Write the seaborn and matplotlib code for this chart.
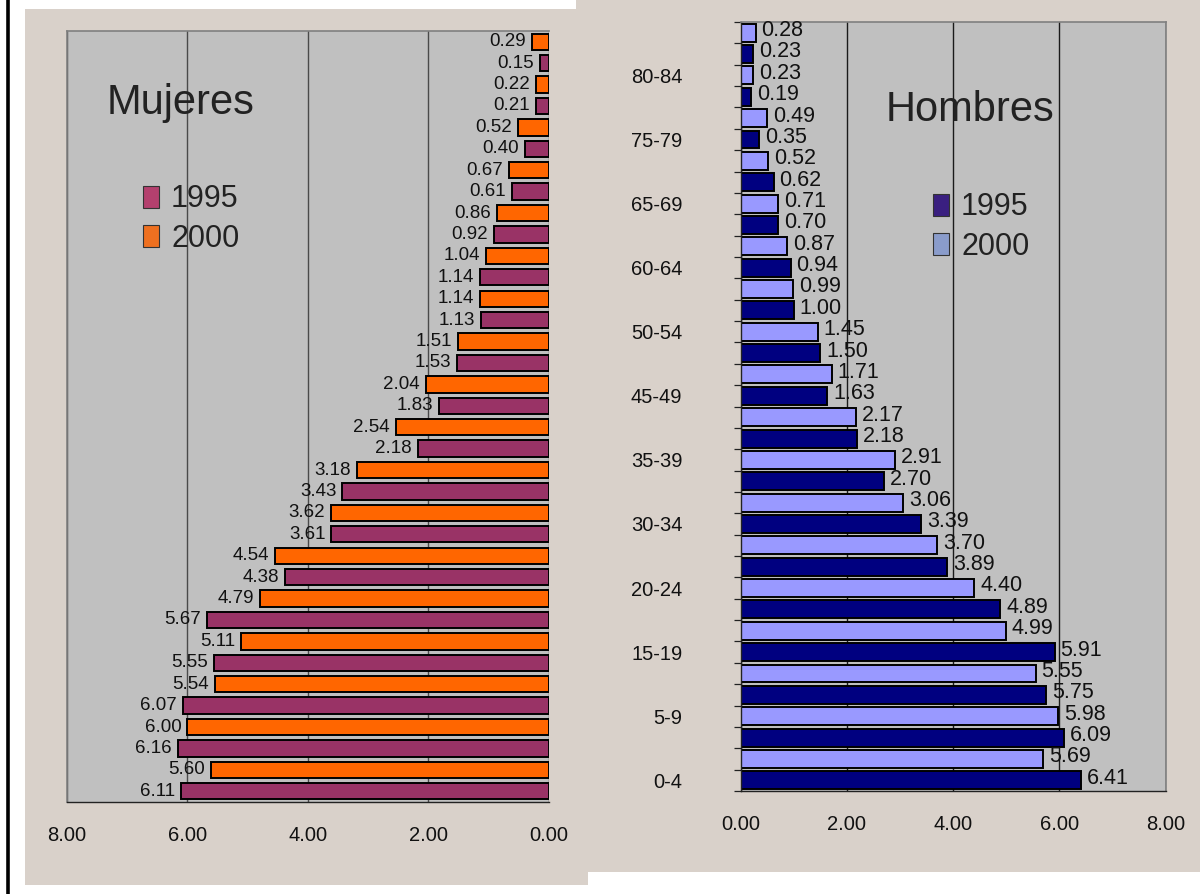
import numpy as np
import pandas as pd
import matplotlib
matplotlib.use("Agg")
import matplotlib.pyplot as plt
from matplotlib.patches import Rectangle, Patch
from matplotlib.lines import Line2D
from matplotlib.ticker import FixedLocator, StrMethodFormatter
import seaborn as sns

# Population share (%) by five-year age group, 1995 and 2000
age_groups = ["0-4", "5-9", "10-14", "15-19", "20-24", "25-29", "30-34", "35-39",
              "40-44", "45-49", "50-54", "55-59", "60-64", "65-69", "70-74",
              "75-79", "80-84", "85+"]
years = ["1995", "2000"]

women_1995 = [6.11, 6.16, 6.07, 5.55, 5.67, 4.38, 3.61, 3.43, 2.18, 1.83, 1.53,
              1.13, 1.14, 0.92, 0.61, 0.40, 0.21, 0.15]
women_2000 = [5.60, 6.00, 5.54, 5.11, 4.79, 4.54, 3.62, 3.18, 2.54, 2.04, 1.51,
              1.14, 1.04, 0.86, 0.67, 0.52, 0.22, 0.29]
men_1995 = [6.41, 6.09, 5.75, 5.91, 4.89, 3.89, 3.39, 2.70, 2.18, 1.63, 1.50,
            1.00, 0.94, 0.70, 0.62, 0.35, 0.19, 0.23]
men_2000 = [5.69, 5.98, 5.55, 4.99, 4.40, 3.70, 3.06, 2.91, 2.17, 1.71, 1.45,
            0.99, 0.87, 0.71, 0.52, 0.49, 0.23, 0.28]

x_ticks = [0, 2, 4, 6, 8]

women_colors = {"1995": "#993366", "2000": "#FF6600"}
men_colors = {"1995": "#000080", "2000": "#9999FF"}
women_key_colors = {"1995": "#B4406E", "2000": "#EE7020"}
men_key_colors = {"1995": "#3A1F80", "2000": "#8A9CCB"}

PANEL = "#D9D1CA"
PLOT_BG = "#C0C0C0"
W, H = 1200, 894

sns.set_style("white")
plt.rcParams["font.family"] = ["Liberation Sans", "DejaVu Sans"]
plt.rcParams["text.color"] = "#111111"


def long_table(v1995, v2000):
    rows = []
    for g, a, b in zip(age_groups, v1995, v2000):
        rows.append((f"{g} 1995", g, "1995", a))
        rows.append((f"{g} 2000", g, "2000", b))
    return pd.DataFrame(rows, columns=["fila", "grupo", "anio", "pct"])


def fx(px):
    return px / W


def fy(py):
    return 1 - py / H


fig = plt.figure(figsize=(W / 100, H / 100), dpi=100, facecolor="white")

# backdrop panels and left rule, kept underneath the axes
fig.patches.append(Rectangle((fx(25), fy(885)), fx(588 - 25), (885 - 9) / H,
                             transform=fig.transFigure, facecolor=PANEL,
                             edgecolor="none", zorder=-5))
fig.patches.append(Rectangle((fx(576), fy(872)), fx(W - 576), 872 / H,
                             transform=fig.transFigure, facecolor=PANEL,
                             edgecolor="none", zorder=-5))
fig.lines.append(Line2D([fx(7.5), fx(7.5)], [0, 1], transform=fig.transFigure,
                        color="black", lw=2.6, zorder=-4))

ax_w = fig.add_axes([fx(66.7), fy(802), fx(549 - 66.7), (802 - 31) / H])
ax_m = fig.add_axes([fx(740.7), fy(791), fx(1165.7 - 740.7), (791 - 22) / H])


def draw(ax, v1995, v2000, palette, bar_width, xlim, label_side, label_size,
         label_dy, grid_color):
    df = long_table(v1995, v2000)
    order = list(df["fila"])[::-1]  # oldest group at the top
    ax.set_facecolor(PLOT_BG)
    ax.set_axisbelow(True)
    sns.barplot(data=df, x="pct", y="fila", hue="anio", order=order,
                hue_order=years, palette=palette, saturation=1, dodge=False,
                width=bar_width, edgecolor="black", linewidth=1.4, errorbar=None,
                legend=False, orient="h", ax=ax)
    ax.set_xlim(*xlim)
    ax.set_ylim(len(order) - 0.5, -0.5)
    ax.set_xlabel("")
    ax.set_ylabel("")
    ax.xaxis.set_major_locator(FixedLocator(x_ticks))
    ax.xaxis.set_major_formatter(StrMethodFormatter("{x:.2f}"))
    ax.grid(axis="x", color=grid_color, lw=1.0)
    ax.grid(axis="y", visible=False)
    ax.tick_params(axis="x", direction="out", length=4.3, width=0.9,
                   color="#222222", pad=13, labelsize=14.5, labelcolor="#111111")
    n = len(order)
    for k, val in enumerate(df["pct"]):
        ypos = n - 1 - k
        ax.annotate(f"{val:.2f}", xy=(val, ypos),
                    xytext=(4.3 * label_side, label_dy), textcoords="offset points",
                    ha="left" if label_side > 0 else "right", va="center",
                    fontsize=label_size, color="#111111")
    return n


# Mujeres: bars grow to the left
n = draw(ax_w, women_1995, women_2000, women_colors, 0.76, (8, 0), -1, 13.5, 0,
         "#4a4a4a")
ax_w.set_yticks([])
for side in ["top", "left"]:
    ax_w.spines[side].set_color("#808080")
    ax_w.spines[side].set_linewidth(1.2)
ax_w.spines["right"].set_visible(False)
ax_w.spines["bottom"].set_color("#222222")
ax_w.spines["bottom"].set_linewidth(1.0)

# Hombres: bars grow to the right, every third row labelled with its age group
n = draw(ax_m, men_1995, men_2000, men_colors, 0.84, (0, 8), 1, 15.5, 1.5,
         "#1a1a1a")
label_rows = list(range(0, 2 * len(age_groups), 3))
ax_m.set_yticks([n - 1 - k for k in label_rows])
ax_m.set_yticklabels([age_groups[k // 2] for k in label_rows])
ax_m.yaxis.set_minor_locator(FixedLocator(np.arange(-0.5, n, 1.0)))
ax_m.tick_params(axis="y", which="major", length=0, pad=42, labelsize=14.5,
                 labelcolor="#111111")
ax_m.tick_params(axis="y", which="minor", direction="out", length=5, width=0.9,
                 color="#222222", left=True)
for side in ["top", "right"]:
    ax_m.spines[side].set_color("#808080")
    ax_m.spines[side].set_linewidth(1.2)
for side in ["left", "bottom"]:
    ax_m.spines[side].set_color("#222222")
    ax_m.spines[side].set_linewidth(1.0)

# panel titles
fig.text(fx(181), fy(114), "Mujeres", ha="center", va="baseline",
         fontsize=30, color="#222222")
fig.text(fx(970), fy(121), "Hombres", ha="center", va="baseline",
         fontsize=30, color="#222222")

# keys
for colors, (lx, ly) in [(women_key_colors, (143, 219)), (men_key_colors, (933, 227))]:
    handles = [Patch(facecolor=colors[y], edgecolor="#333333", linewidth=0.8)
               for y in years]
    fig.legend(handles, years, loc="center left",
               bbox_to_anchor=(fx(lx), fy(ly)), bbox_transform=fig.transFigure,
               frameon=False, fontsize=22, handlelength=0.52, handleheight=0.75,
               handletextpad=0.4, labelspacing=0.3, borderpad=0, borderaxespad=0,
               labelcolor="#222222")

fig.savefig("out.png", dpi=100, facecolor="white")
